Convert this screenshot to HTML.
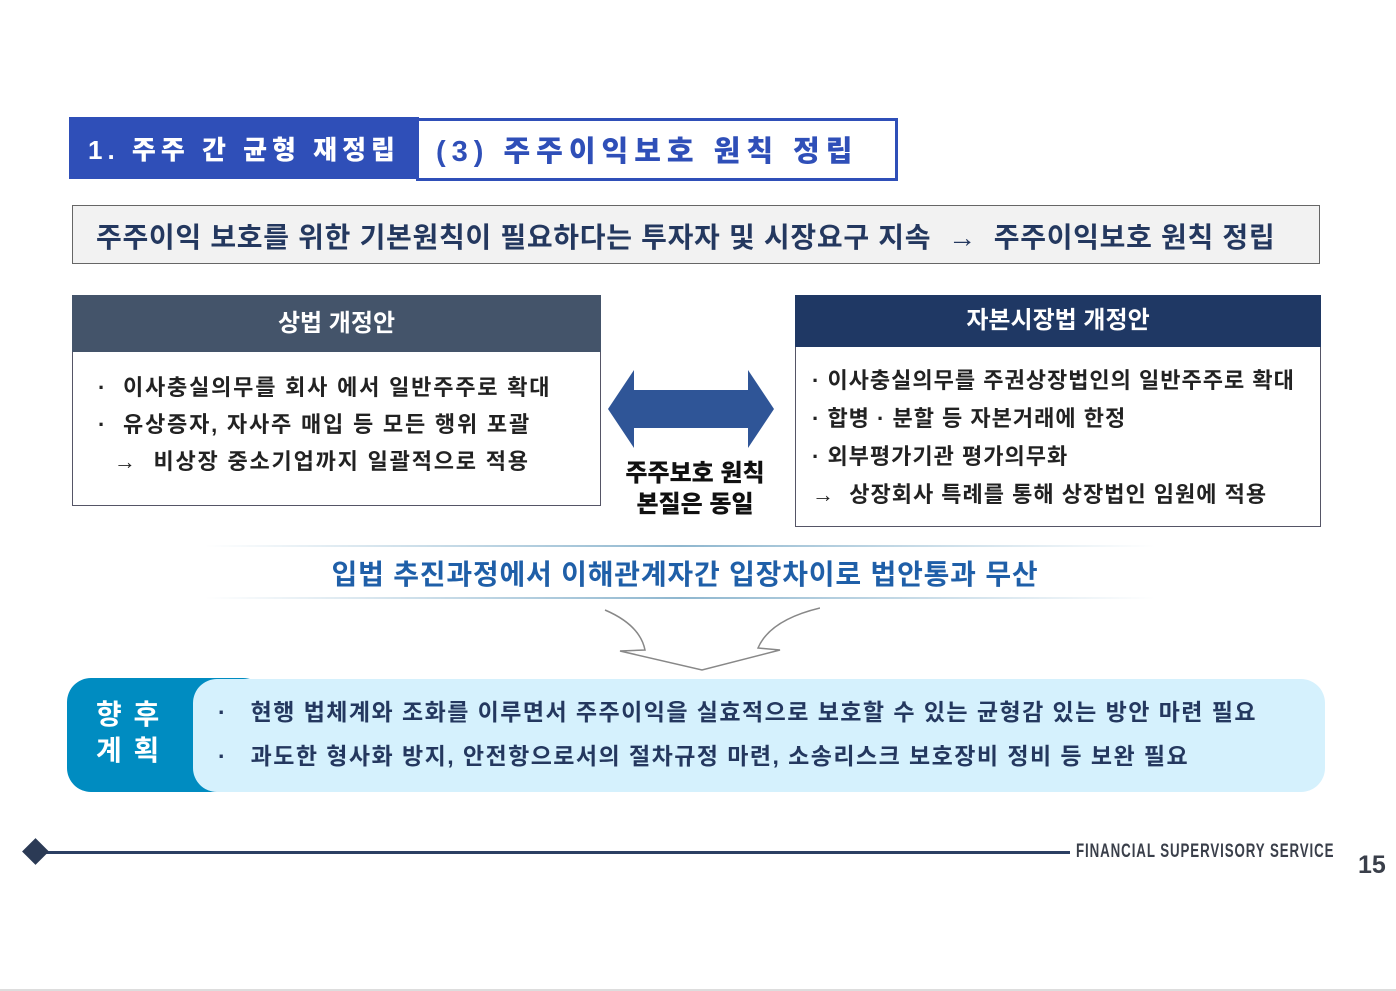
<!DOCTYPE html>
<html><head><meta charset="utf-8"><style>
body{margin:0;width:1396px;height:991px;background:#fff;position:relative;overflow:hidden;font-family:"Liberation Sans","Noto Sans CJK KR",sans-serif;font-weight:bold}
.a{position:absolute;white-space:nowrap}
</style></head><body>
<div class="a" style="left:69px;top:117px;width:350px;height:62px;background:#2f4fb8"></div>
<div class="a" style="left:88px;top:130px;color:#fff;font-size:26px;letter-spacing:5px;font-weight:900">1. 주주 간 균형 재정립</div>
<div class="a" style="left:416px;top:118px;width:476px;height:57px;border:3px solid #2f4fb8;background:#fff"></div>
<div class="a" style="left:436px;top:128px;color:#2f4fb8;font-size:29px;letter-spacing:6px;font-weight:900">(3) 주주이익보호 원칙 정립</div>

<div class="a" style="left:72px;top:205px;width:1246px;height:57px;border:1px solid #666;background:#f2f2f2"></div>
<div class="a" style="left:96px;top:216px;color:#24385f;font-size:28px;letter-spacing:0.7px">주주이익 보호를 위한 기본원칙이 필요하다는 투자자 및 시장요구 지속 &nbsp;→&nbsp; 주주이익보호 원칙 정립</div>

<div class="a" style="left:72px;top:295px;width:527px;height:209px;border:1px solid #556;"></div>
<div class="a" style="left:72px;top:295px;width:529px;height:57px;background:#44546a;color:#fff;font-size:24px;text-align:center;line-height:57px">상법 개정안</div>
<div class="a" style="left:98px;top:369px;color:#222;font-size:22px;line-height:37px;letter-spacing:1.8px">· &nbsp;이사충실의무를 회사 에서 일반주주로 확대<br>· &nbsp;유상증자, 자사주 매입 등 모든 행위 포괄<br>&nbsp;&nbsp;→ &nbsp;비상장 중소기업까지 일괄적으로 적용</div>

<div class="a" style="left:795px;top:295px;width:524px;height:230px;border:1px solid #556;"></div>
<div class="a" style="left:795px;top:295px;width:526px;height:52px;background:#1f3864;color:#fff;font-size:24px;text-align:center;line-height:52px">자본시장법 개정안</div>
<div class="a" style="left:812px;top:362px;color:#222;font-size:22px;line-height:38px;letter-spacing:1px">· 이사충실의무를 주권상장법인의 일반주주로 확대<br>· 합병 · 분할 등 자본거래에 한정<br>· 외부평가기관 평가의무화<br>→ &nbsp;상장회사 특례를 통해 상장법인 임원에 적용</div>

<svg class="a" style="left:606px;top:368px" width="170" height="82"><polygon points="2,41 28,2 28,22 142,22 142,2 168,41 142,80 142,60 28,60 28,80" fill="#2f5597"/></svg>
<div class="a" style="left:610px;top:458px;width:170px;text-align:center;color:#111;font-size:24px;line-height:31px;font-weight:900">주주보호 원칙<br>본질은 동일</div>

<div class="a" style="left:205px;top:545px;width:950px;height:2px;background:linear-gradient(90deg,#fff,#8fb7cf,#fff)"></div>
<div class="a" style="left:205px;top:597px;width:950px;height:2px;background:linear-gradient(90deg,#fff,#8fb7cf,#fff)"></div>
<div class="a" style="left:185px;top:553px;width:1000px;color:#1f5fa8;font-size:28px;text-align:center;letter-spacing:0.8px">입법 추진과정에서 이해관계자간 입장차이로 법안통과 무산</div>
<svg class="a" style="left:600px;top:605px" width="220" height="70"><path d="M5,5 Q40,20 45,45 L20,46 L102,65 L180,45 L158,43 Q170,15 220,3" fill="#fff" stroke="#888" stroke-width="1.5"/></svg>

<div class="a" style="left:67px;top:678px;width:200px;height:114px;background:#008cc1;border-radius:24px"></div>
<div class="a" style="left:193px;top:679px;width:1132px;height:113px;background:#d5f1fd;border-radius:24px"></div>
<div class="a" style="left:96px;top:697px;color:#fff;font-size:28px;line-height:36px;letter-spacing:2px">향 후<br>계 획</div>
<div class="a" style="left:218px;top:690px;color:#24385f;font-size:23px;line-height:44px;letter-spacing:1.45px">·&nbsp;&nbsp; 현행 법체계와 조화를 이루면서 주주이익을 실효적으로 보호할 수 있는 균형감 있는 방안 마련 필요<br>·&nbsp;&nbsp; 과도한 형사화 방지, 안전항으로서의 절차규정 마련, 소송리스크 보호장비 정비 등 보완 필요</div>

<div class="a" style="left:40px;top:851px;width:1030px;height:3px;background:#2b3f63"></div>
<div class="a" style="left:26px;top:842px;width:19px;height:19px;background:#2b3a55;transform:rotate(45deg)"></div>
<div class="a" style="left:1076px;top:841px;color:#3a3f4a;font-size:19px;letter-spacing:1.3px;transform:scaleX(0.7);transform-origin:0 0">FINANCIAL SUPERVISORY SERVICE</div>
<div class="a" style="left:1358px;top:851px;color:#3a3f4a;font-size:25px;font-weight:900">15</div>
<div class="a" style="left:0;top:989px;width:1396px;height:2px;background:#ddd"></div>
</body></html>
